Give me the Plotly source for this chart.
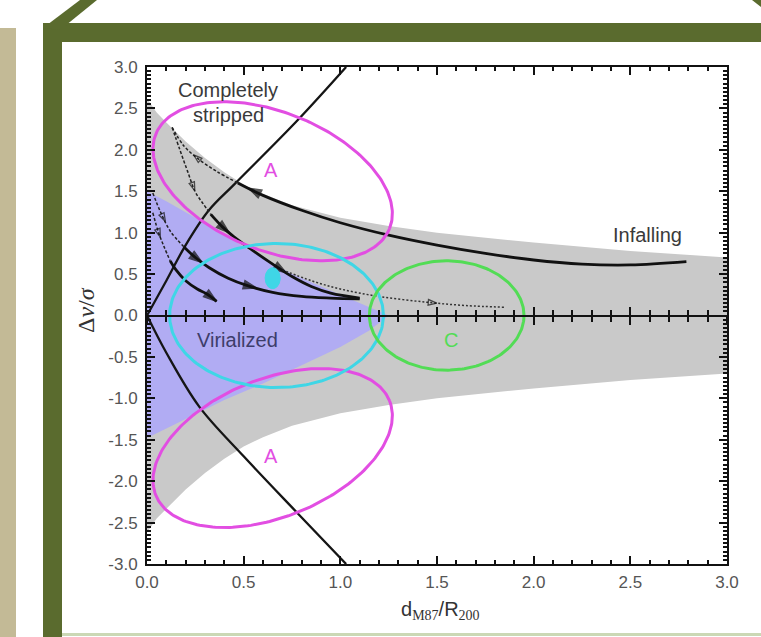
import numpy as np
import plotly.graph_objects as go

# ---------------- page / plot geometry ----------------
W, H = 761, 637
ML, MR, MT, MB = 147, 34, 67, 73          # plot-area margins (px)
PW, PH = W - ML - MR, H - MT - MB
X_RANGE = [0.0, 3.0]
Y_RANGE = [-3.0, 3.0]
PX_X = PW / (X_RANGE[1] - X_RANGE[0])     # px per x unit
PX_Y = PH / (Y_RANGE[1] - Y_RANGE[0])     # px per y unit

# ---------------- data ----------------
# tick labels
x_ticks = [0.0, 0.5, 1.0, 1.5, 2.0, 2.5, 3.0]
x_labels = ["0.0", "0.5", "1.0", "1.5", "2.0", "2.5", "3.0"]
y_ticks = [-3.0, -2.5, -2.0, -1.5, -1.0, -0.5, 0.0, 0.5, 1.0, 1.5, 2.0, 2.5, 3.0]
y_labels = ["-3.0", "-2.5", "-2.0", "-1.5", "-1.0", "-0.5", "0.0",
            "0.5", "1.0", "1.5", "2.0", "2.5", "3.0"]

# upper edge of the gray (bound) band; the band is symmetric about 0
band_x = [0.0, 0.05, 0.1, 0.15, 0.2, 0.3, 0.4, 0.5, 0.6, 0.75, 1.0, 1.25, 1.5, 2.0, 2.5, 3.0]
band_y = [2.62, 2.45, 2.33, 2.22, 2.10, 1.90, 1.73, 1.58, 1.47, 1.33, 1.18, 1.08, 1.00, 0.88, 0.78, 0.70]

# virialized region
vir_up_x = [0.0, 0.1, 0.25, 0.4, 0.55, 0.75, 0.9, 1.05, 1.25]
vir_up_y = [1.50, 1.38, 1.18, 0.97, 0.76, 0.50, 0.35, 0.20, 0.0]
vir_lo_x = [0.0, 0.2, 0.4, 0.6, 0.8, 1.0, 1.15, 1.25]
vir_lo_y = [-1.48, -1.25, -1.02, -0.82, -0.60, -0.38, -0.18, 0.0]

# caustic (escape) lines
caus_up_x = [0.0, 0.1, 0.2, 0.32, 0.45, 0.78, 1.03]
caus_up_y = [0.0, 0.42, 0.85, 1.27, 1.58, 2.36, 3.0]
caus_lo_x = [0.0, 0.1, 0.27, 0.5, 0.78, 1.03]
caus_lo_y = [0.0, -0.45, -1.10, -1.70, -2.39, -3.0]

# orbits, listed in the direction of motion
infall_x = [2.79, 2.5, 2.25, 2.0, 1.75, 1.5, 1.25, 1.0, 0.8, 0.6, 0.47]
infall_y = [0.65, 0.61, 0.62, 0.67, 0.75, 0.85, 0.97, 1.12, 1.27, 1.45, 1.60]
d1_x = [0.47, 0.36, 0.26, 0.19, 0.13]
d1_y = [1.60, 1.74, 1.90, 2.05, 2.27]
d2_x = [0.13, 0.17, 0.21, 0.25, 0.29, 0.33]
d2_y = [2.27, 2.00, 1.74, 1.49, 1.35, 1.22]
s2_x = [0.33, 0.39, 0.45, 0.55, 0.65, 0.75, 0.85, 0.95, 1.1]
s2_y = [1.22, 1.07, 0.95, 0.78, 0.62, 0.47, 0.35, 0.27, 0.21]
d3_x = [0.03, 0.07, 0.12, 0.19]
d3_y = [1.48, 1.25, 1.02, 0.83]
s3_x = [0.19, 0.25, 0.32, 0.42, 0.52, 0.65, 0.8, 0.95, 1.1]
s3_y = [0.83, 0.70, 0.58, 0.45, 0.36, 0.28, 0.23, 0.21, 0.20]
d4_x = [0.03, 0.06, 0.09, 0.12]
d4_y = [1.24, 1.00, 0.82, 0.66]
s4_x = [0.12, 0.15, 0.2, 0.26, 0.31, 0.36]
s4_y = [0.66, 0.55, 0.42, 0.32, 0.26, 0.17]
d5_x = [0.70, 0.85, 1.0, 1.2, 1.45, 1.65, 1.85]
d5_y = [0.55, 0.42, 0.32, 0.23, 0.16, 0.12, 0.10]

# ellipses: centre, semi-axes (x units / y units before tilt), tilt on screen (deg)
ell_cx = [0.65, 0.65, 0.67, 1.55]
ell_cy = [1.62, -1.60, 0.0, 0.0]
ell_rx = [0.652, 0.652, 0.553, 0.40]
ell_ry = [0.833, 0.833, 0.870, 0.66]
ell_tilt = [-22, 22, 0, 0]
ell_color = ["#e24ee2", "#e24ee2", "#3fd6e6", "#52dc55"]

# small cyan spot
spot_cx, spot_cy, spot_rx, spot_ry = 0.65, 0.45, 0.039, 0.127

# text labels
lab_text = ["Completely", "stripped", "Infalling", "Virialized", "A", "A", "C"]
lab_x = [0.42, 0.42, 2.59, 0.47, 0.64, 0.64, 1.57]
lab_y = [2.72, 2.42, 0.97, -0.30, 1.76, -1.70, -0.30]
lab_col = ["#3a3a3a", "#3a3a3a", "#3a3a3a", "#3d3d6a", "#e24ee2", "#e24ee2", "#52dc55"]


def ellipse_xy(cx, cy, rx, ry, tilt_deg, n=240):
    t = np.linspace(0, 2 * np.pi, n)
    a, b = rx * PX_X, ry * PX_Y
    th = np.radians(tilt_deg)
    u = a * np.cos(t) * np.cos(th) - b * np.sin(t) * np.sin(th)
    v = a * np.cos(t) * np.sin(th) + b * np.sin(t) * np.cos(th)
    return cx + u / PX_X, cy + v / PX_Y


def point_along(xs, ys, frac):
    """Point at a fraction of the screen path length, plus a point just before it."""
    px = np.array(xs) * PX_X
    py = np.array(ys) * PX_Y
    seg = np.hypot(np.diff(px), np.diff(py))
    cum = np.concatenate([[0], np.cumsum(seg)])
    s = frac * cum[-1]
    s0 = max(s - 6.0, 0.0)
    return (np.interp(s0, cum, xs), np.interp(s0, cum, ys),
            np.interp(s, cum, xs), np.interp(s, cum, ys))


fig = go.Figure()

# gray band
fig.add_trace(go.Scatter(
    x=band_x + band_x[::-1], y=band_y + [-v for v in band_y[::-1]],
    fill="toself", fillcolor="#c9c9c9", line=dict(width=0), mode="lines",
    hoverinfo="skip", showlegend=False))

# virialized region
fig.add_trace(go.Scatter(
    x=vir_up_x + vir_lo_x[::-1], y=vir_up_y + vir_lo_y[::-1],
    fill="toself", fillcolor="#b1acf3", line=dict(width=0), mode="lines",
    hoverinfo="skip", showlegend=False))

# caustic lines
for xs, ys in [(caus_up_x, caus_up_y), (caus_lo_x, caus_lo_y)]:
    fig.add_trace(go.Scatter(x=xs, y=ys, mode="lines",
                             line=dict(color="#151515", width=2.3, shape="spline"),
                             hoverinfo="skip", showlegend=False))

# orbits
solid = [(infall_x, infall_y), (s2_x, s2_y), (s3_x, s3_y), (s4_x, s4_y)]
dashed = [(d1_x, d1_y), (d2_x, d2_y), (d3_x, d3_y), (d4_x, d4_y)]
for xs, ys in solid:
    fig.add_trace(go.Scatter(x=xs, y=ys, mode="lines",
                             line=dict(color="#111111", width=2.8, shape="spline"),
                             hoverinfo="skip", showlegend=False))
for xs, ys in dashed:
    fig.add_trace(go.Scatter(x=xs, y=ys, mode="lines",
                             line=dict(color="#222222", width=1.5, dash="3px,2px", shape="spline"),
                             hoverinfo="skip", showlegend=False))
fig.add_trace(go.Scatter(x=d5_x, y=d5_y, mode="lines",
                         line=dict(color="#333333", width=1.5, dash="2px,2px", shape="spline"),
                         hoverinfo="skip", showlegend=False))

# arrowheads: (curve, fraction along curve, filled?)
arrow_specs = [
    (infall_x, infall_y, 0.975, True),
    (s2_x, s2_y, 0.15, True), (s2_x, s2_y, 0.55, True),
    (s3_x, s3_y, 0.13, True), (s3_x, s3_y, 0.45, True),
    (s4_x, s4_y, 1.0, True),
    (d1_x, d1_y, 0.6, False), (d2_x, d2_y, 0.7, False),
    (d3_x, d3_y, 0.5, False), (d4_x, d4_y, 0.5, False),
    (d5_x, d5_y, 0.7, False),
]
for xs, ys, frac, filled in arrow_specs:
    x0, y0, x1, y1 = point_along(xs, ys, frac)
    fig.add_trace(go.Scatter(
        x=[x0, x1], y=[y0, y1], mode="markers",
        marker=dict(symbol="arrow" if filled else "arrow-open",
                    size=[0, 14 if filled else 9], angleref="previous",
                    color="#111111", line=dict(width=1.3, color="#111111")),
        hoverinfo="skip", showlegend=False))

# ellipses
for cx, cy, rx, ry, tl, col in zip(ell_cx, ell_cy, ell_rx, ell_ry, ell_tilt, ell_color):
    ex, ey = ellipse_xy(cx, cy, rx, ry, tl)
    fig.add_trace(go.Scatter(x=ex, y=ey, mode="lines", line=dict(color=col, width=3),
                             hoverinfo="skip", showlegend=False))
sx, sy = ellipse_xy(spot_cx, spot_cy, spot_rx, spot_ry, 0)
fig.add_trace(go.Scatter(x=sx, y=sy, mode="lines", fill="toself", fillcolor="#3fd6e6",
                         line=dict(color="#3fd6e6", width=1), hoverinfo="skip", showlegend=False))

# empty traces that carry the zero-line axes
for ax in ["x2", "x3"]:
    fig.add_trace(go.Scatter(x=[None], y=[None], xaxis=ax, yaxis="y", mode="lines",
                             hoverinfo="skip", showlegend=False))

# labels
for t, x, y, c in zip(lab_text, lab_x, lab_y, lab_col):
    fig.add_annotation(x=x, y=y, text=t, showarrow=False, xanchor="center", yanchor="middle",
                       font=dict(family="Liberation Sans, Arial, sans-serif", size=20, color=c))

tick_font = dict(family="Liberation Sans, Arial, sans-serif", size=17, color="#555555")
axis_common = dict(showline=True, linecolor="#111111", linewidth=2, showgrid=False,
                   zeroline=False, ticks="inside", tickcolor="#111111", tickwidth=2,
                   ticklen=8, mirror="ticks", tickfont=tick_font, tickmode="array")

zero_axis = dict(overlaying="x", anchor="free", position=0.5, range=X_RANGE,
                 showline=True, linecolor="#111111", linewidth=2, showgrid=False,
                 zeroline=False, showticklabels=False, tickmode="array", tickvals=x_ticks,
                 tickcolor="#111111", tickwidth=2, ticklen=8)

fig.update_layout(
    width=W, height=H,
    margin=dict(l=ML, r=MR, t=MT, b=MB, pad=0),
    paper_bgcolor="white", plot_bgcolor="white",
    showlegend=False,
    xaxis=dict(range=X_RANGE, tickvals=x_ticks, ticktext=x_labels, ticklabelstandoff=2,
               minor=dict(tick0=0, dtick=0.1, ticks="inside", ticklen=4, tickwidth=1.5,
                          tickcolor="#111111"),
               **axis_common),
    yaxis=dict(range=Y_RANGE, tickvals=y_ticks, ticktext=y_labels, ticklabelstandoff=4,
               minor=dict(tick0=0, dtick=0.05, ticks="inside", ticklen=4, tickwidth=1.5,
                          tickcolor="#111111"),
               **axis_common),
    xaxis2=dict(side="bottom", ticks="outside",
                minor=dict(tick0=0, dtick=0.1, ticks="outside", ticklen=5, tickwidth=1.5,
                           tickcolor="#111111"),
                **zero_axis),
    xaxis3=dict(side="bottom", ticks="inside",
                minor=dict(tick0=0, dtick=0.1, ticks="inside", ticklen=5, tickwidth=1.5,
                           tickcolor="#111111"),
                **zero_axis),
)

# axis titles
fig.add_annotation(xref="paper", yref="paper", x=(440 - ML) / PW, y=(H - MB - 610) / PH,
                   xanchor="center", yanchor="middle",
                   text='d<sub><span style="font-family:Liberation Serif">M87</span></sub>/R'
                        '<sub><span style="font-family:Liberation Serif">200</span></sub>',
                   showarrow=False,
                   font=dict(family="Liberation Sans, Arial, sans-serif", size=20, color="#333333"))
fig.add_annotation(xref="paper", yref="paper", x=(86 - ML) / PW, y=(H - MB - 310) / PH,
                   xanchor="center", yanchor="middle",
                   text="Δ<i>v</i>/<i>σ</i>", textangle=-90, showarrow=False,
                   font=dict(family="Liberation Serif, serif", size=24, color="#333333"))


# slide frame around the chart (pixel positions converted to paper units)
def pp(px, py):
    return (px - ML) / PW, (H - MB - py) / PH


def rect(x0, y0, x1, y1, color):
    a, b = pp(x0, y0)
    c, d = pp(x1, y1)
    fig.add_shape(type="rect", xref="paper", yref="paper", x0=a, y0=b, x1=c, y1=d,
                  fillcolor=color, line=dict(width=0), layer="above")


def poly(points, color):
    pts = [pp(x, y) for x, y in points]
    path = "M " + " L ".join(f"{x:.5f},{y:.5f}" for x, y in pts) + " Z"
    fig.add_shape(type="path", xref="paper", yref="paper", path=path,
                  fillcolor=color, line=dict(width=0), layer="above")


FRAME = "#5a6b2e"
rect(0, 28, 16, 637, "#c3ba96")
rect(43, 23, 62, 637, FRAME)
rect(43, 23, 761, 42, FRAME)
poly([(43, 28), (80, 0), (97, 0), (60, 30)], FRAME)
poly([(752, 0), (761, 0), (761, 7)], FRAME)
rect(62, 633, 761, 636, "#cbd8b5")

fig.write_html("out.html")
